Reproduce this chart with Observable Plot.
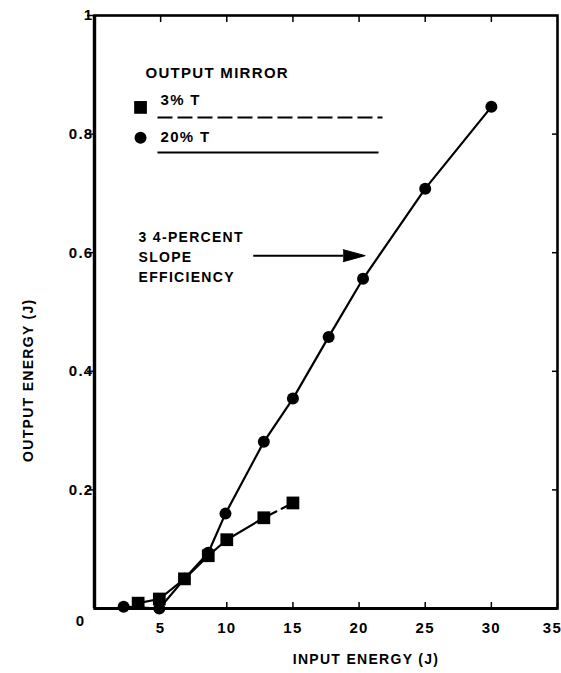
<!DOCTYPE html>
<html>
<head>
<meta charset="utf-8">
<script src="https://cdn.jsdelivr.net/npm/d3@7"></script>
<script src="https://cdn.jsdelivr.net/npm/@observablehq/plot@0.6"></script>
<style>
  html, body { margin: 0; padding: 0; background: #fff; }
  #chart svg text { letter-spacing: 1.3px; }
</style>
</head>
<body>
<div id="chart"></div>
<script>
// 20% T output mirror (circles)
const circleX = [2.2, 4.9, 6.8, 8.6, 9.9, 12.8, 15.0, 17.7, 20.3, 25.0, 30.0];
const circleY = [0.003, 0.0, 0.05, 0.094, 0.16, 0.281, 0.354, 0.458, 0.556, 0.708, 0.846];
// 3% T output mirror (squares)
const squareX = [3.3, 4.9, 6.8, 8.6, 10.0, 12.8, 15.0];
const squareY = [0.009, 0.016, 0.05, 0.089, 0.116, 0.153, 0.178];

const xTicks = [5, 10, 15, 20, 25, 30];
const xLastTick = [35];
const xAllTicks = [5, 10, 15, 20, 25, 30, 35];
const xTopTicks = [5, 10, 15, 20, 25, 30];
const yTicks = [0.2, 0.4, 0.6, 0.8, 1];
const yTickLabels = ["0.2", "0.4", "0.6", "0.8", "1"];
const yRightTicks = [0.2, 0.4, 0.6, 0.8];

const xLabel = "INPUT ENERGY (J)";
const yLabel = "OUTPUT ENERGY (J)";
const legendTitle = "OUTPUT MIRROR";
const seriesNames = ["3% T", "20% T"];
const annotationText = "3 4-PERCENT\nSLOPE\nEFFICIENCY";

// annotation anchor positions (data units)
const legendTitlePos = {x: 3.85, y: 0.902};
const legendSymbolX = [3.48, 3.48];
const legendSymbolY = [0.845, 0.794];
const legendTextX = [4.99, 4.99];
const legendTextY = [0.857, 0.794];
const legendLineX1 = [4.76, 4.76];
const legendLineX2 = [21.77, 21.47];
const legendLineY = [0.828, 0.769];
const annotationPos = {x: 3.33, y: 0.595};
const arrowX1 = 12.0, arrowX2 = 18.8, arrowY = 0.595;
const yLabelPos = 0.385;

const circles = circleX.map((x, i) => ({x, y: circleY[i]}));
const squares = squareX.map((x, i) => ({x, y: squareY[i]}));
const squaresSolid = squares.filter(d => d.x <= 12.8);
const squaresDashed = squares.filter(d => d.x >= 12.8);

const chart = Plot.plot({
  width: 561,
  height: 673,
  marginLeft: 94,
  marginRight: 4,
  marginTop: 15,
  marginBottom: 65,
  style: {fontFamily: "'Liberation Sans', Arial, sans-serif", fontWeight: "bold", fontSize: "15px", color: "black", background: "white"},
  x: {domain: [0, 35]},
  y: {domain: [0, 1]},
  marks: [
    // ticks
    Plot.axisX(xAllTicks, {anchor: "bottom", tickSize: -6, tickFormat: () => "", label: null, strokeWidth: 1.5}),
    Plot.axisX(xTicks, {anchor: "bottom", tickSize: 0, tickPadding: 14, label: null, fontSize: 15}),
    Plot.axisX(xLastTick, {anchor: "bottom", tickSize: 0, tickPadding: 14, label: null, fontSize: 15, dx: -5}),
    Plot.axisX(xTopTicks, {anchor: "top", tickSize: -6, tickFormat: () => "", label: null, strokeWidth: 1.5}),
    Plot.axisY(yTicks, {anchor: "left", tickSize: 7, tickPadding: 0, tickFormat: () => "", label: null, strokeWidth: 1.5}),
    Plot.axisY(yTicks, {anchor: "left", tickSize: 0, tickPadding: 6, dx: 5, tickFormat: (d) => yTickLabels[yTicks.indexOf(d)], label: null, fontSize: 15}),
    Plot.axisY(yRightTicks, {anchor: "right", tickSize: -6, tickFormat: () => "", label: null, strokeWidth: 1.5}),
    Plot.frame({stroke: "black", strokeWidth: 2.6}),
    Plot.ruleX([0], {stroke: "black", strokeWidth: 3.4}),
    Plot.ruleY([0], {stroke: "black", strokeWidth: 3}),
    Plot.text(["0"], {x: 0, y: 0, dx: -14, dy: 13, text: d => d, fontSize: 15}),
    // axis labels
    Plot.text([xLabel], {frameAnchor: "bottom", dx: 40, dy: 55, text: d => d, fontSize: 14}),
    Plot.text([yLabel], {x: 0, y: yLabelPos, dx: -66, textAnchor: "middle", rotate: -90, text: d => d, fontSize: 14}),
    // data lines
    Plot.line(circles, {x: "x", y: "y", stroke: "black", strokeWidth: 2.2}),
    Plot.line(squaresSolid, {x: "x", y: "y", stroke: "black", strokeWidth: 2.2}),
    Plot.line(squaresDashed, {x: "x", y: "y", stroke: "black", strokeWidth: 2.2, strokeDasharray: "14,6"}),
    // data points
    Plot.dot(circles, {x: "x", y: "y", r: 6, fill: "black", symbol: "circle"}),
    Plot.dot(squares, {x: "x", y: "y", r: 7.2, fill: "black", symbol: "square"}),
    // legend
    Plot.text([legendTitle], {x: legendTitlePos.x, y: legendTitlePos.y, text: d => d, textAnchor: "start", fontSize: 15}),
    Plot.dot([0], {x: () => legendSymbolX[0], y: () => legendSymbolY[0], r: 7.2, symbol: "square", fill: "black"}),
    Plot.dot([1], {x: () => legendSymbolX[1], y: () => legendSymbolY[1], r: 6, symbol: "circle", fill: "black"}),
    Plot.text(seriesNames, {x: (d, i) => legendTextX[i], y: (d, i) => legendTextY[i], text: d => d, textAnchor: "start", fontSize: 15}),
    Plot.link([0], {x1: () => legendLineX1[0], x2: () => legendLineX2[0], y1: () => legendLineY[0], y2: () => legendLineY[0], stroke: "black", strokeWidth: 2, strokeDasharray: "15,5"}),
    Plot.link([1], {x1: () => legendLineX1[1], x2: () => legendLineX2[1], y1: () => legendLineY[1], y2: () => legendLineY[1], stroke: "black", strokeWidth: 2}),
    // annotation
    Plot.text([annotationText], {x: annotationPos.x, y: annotationPos.y, text: d => d, textAnchor: "start", lineAnchor: "middle", lineHeight: 1.45, fontSize: 14}),
    Plot.link([0], {x1: () => arrowX1, x2: () => arrowX2, y1: () => arrowY, y2: () => arrowY, stroke: "black", strokeWidth: 2}),
    Plot.vector([0], {x: () => arrowX2, y: () => arrowY, length: 22, rotate: 90, shape: "spike", r: 6, anchor: "start", fill: "black", stroke: "black", strokeWidth: 1})
  ]
});
document.getElementById("chart").appendChild(chart);
</script>
</body>
</html>
